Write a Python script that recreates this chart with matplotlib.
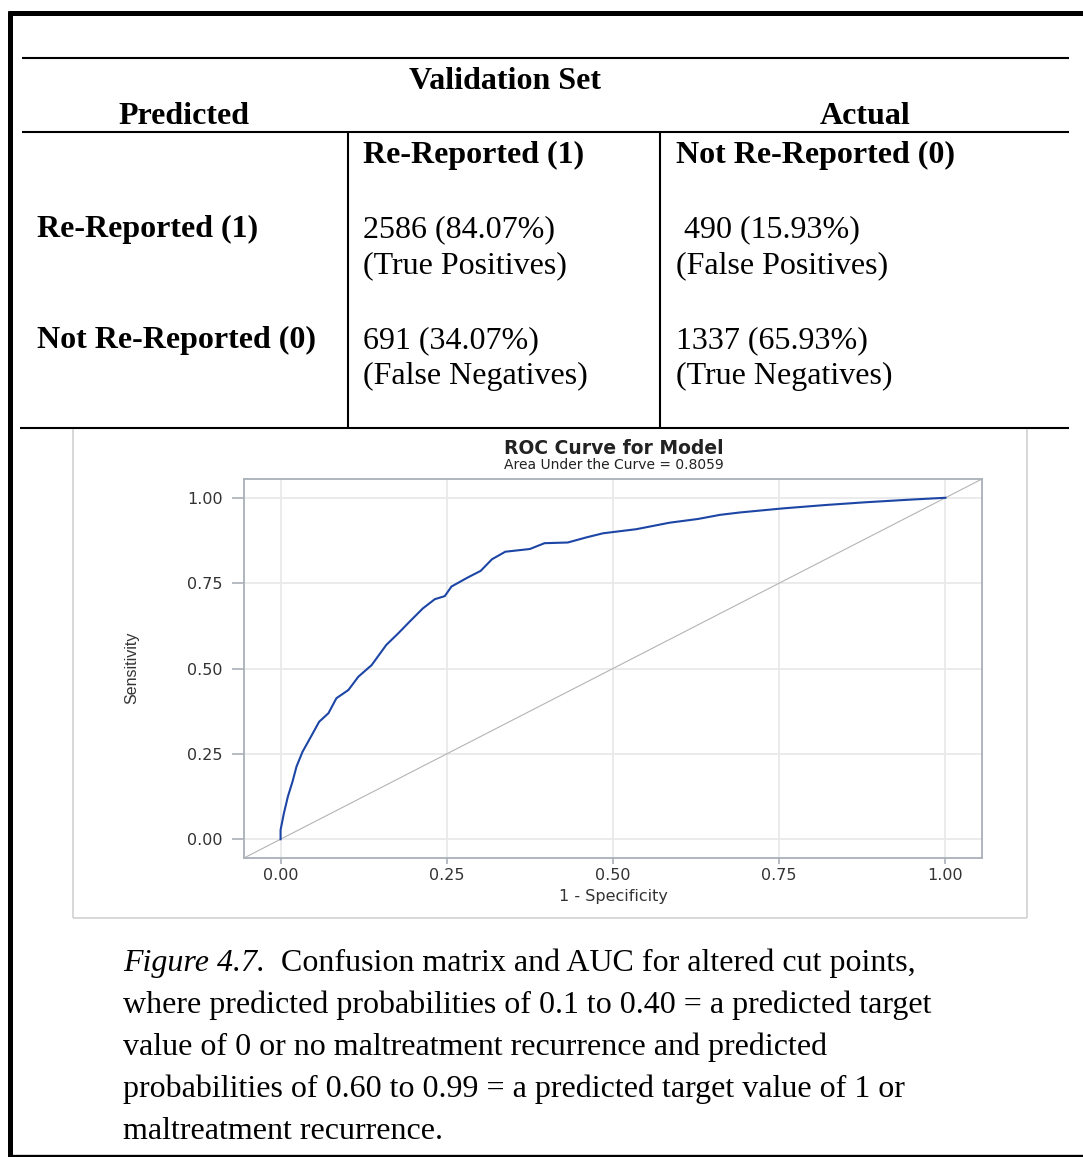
#!/usr/bin/env python3
import matplotlib
matplotlib.use("Agg")
from matplotlib import pyplot as plt

W, H = 1083, 1157
DPI = 100

# validation set confusion matrix
col_heads = ["Re-Reported (1)", "Not Re-Reported (0)"]
row_heads = ["Re-Reported (1)", "Not Re-Reported (0)"]
counts = [[2586, 490], [691, 1337]]
row_pcts = [[84.07, 15.93], [34.07, 65.93]]
outcomes = [["True Positives", "False Positives"],
            ["False Negatives", "True Negatives"]]

# ROC curve (1 - specificity, sensitivity)
fpr = [0.0, 0.0, 0.005, 0.011, 0.018, 0.024, 0.033, 0.047, 0.058, 0.072,
       0.084, 0.102, 0.117, 0.137, 0.159, 0.177, 0.194, 0.214, 0.232, 0.247,
       0.257, 0.281, 0.301, 0.318, 0.338, 0.375, 0.397, 0.432, 0.460, 0.485,
       0.535, 0.585, 0.628, 0.661, 0.691, 0.756, 0.821, 0.881, 0.951, 1.0]
tpr = [0.0, 0.027, 0.076, 0.125, 0.169, 0.213, 0.256, 0.305, 0.344, 0.369,
       0.413, 0.437, 0.476, 0.510, 0.569, 0.603, 0.637, 0.676, 0.703, 0.712,
       0.740, 0.766, 0.786, 0.820, 0.842, 0.850, 0.867, 0.869, 0.884, 0.896,
       0.908, 0.927, 0.938, 0.950, 0.957, 0.969, 0.979, 0.987, 0.995, 1.0]
auc = 0.8059
ticks = [0.0, 0.25, 0.50, 0.75, 1.00]

fig_label = "Figure 4.7."
caption = ["  Confusion matrix and AUC for altered cut points,",
           "where predicted probabilities of 0.1 to 0.40 = a predicted target",
           "value of 0 or no maltreatment recurrence and predicted",
           "probabilities of 0.60 to 0.99 = a predicted target value of 1 or",
           "maltreatment recurrence."]

serif = ["Liberation Serif", "DejaVu Serif"]
tsize = 23

fig = plt.figure(figsize=(W / DPI, H / DPI), dpi=DPI)

# page layer in pixel units, y going down
bg = fig.add_axes([0, 0, 1, 1])
bg.set_xlim(0, W)
bg.set_ylim(H, 0)
bg.axis("off")


def hline(y, x0, x1, lw, color="k"):
    bg.plot([x0, x1], [y, y], color=color, lw=lw, solid_capstyle="butt")


def vline(x, y0, y1, lw, color="k"):
    bg.plot([x, x], [y0, y1], color=color, lw=lw, solid_capstyle="butt")


# outer frame
hline(12.5, 7.5, W, 3.6)
vline(9.8, 10.5, H, 3.6)
hline(1155.5, 7.5, W, 2.4)

# table rules
hline(58, 22, 1069, 1.5)
hline(132, 22, 1069, 1.5)
hline(428, 20, 1069, 1.5)
vline(348, 132, 428, 1.5)
vline(660, 132, 428, 1.5)

# ROC panel border
vline(73, 429, 918, 1.3, "#D4D4D4")
vline(1027, 429, 918, 1.3, "#D4D4D4")
hline(918, 73, 1027, 1.3, "#D4D4D4")

bold = dict(family=serif, size=tsize, weight="bold", va="baseline")
plain = dict(family=serif, size=tsize, va="baseline")

bg.text(505, 89, "Validation Set", ha="center", **bold)
bg.text(184, 124, "Predicted", ha="center", **bold)
bg.text(865, 124, "Actual", ha="center", **bold)

col_x = [363, 676]
row_y = [237, 348]
for j, head in enumerate(col_heads):
    bg.text(col_x[j], 163, head, ha="left", **bold)
for i, head in enumerate(row_heads):
    bg.text(37, row_y[i], head, ha="left", **bold)
    for j in range(2):
        n = "{}".format(counts[i][j]) if j == 0 else "{:>4}".format(counts[i][j])
        bg.text(col_x[j], row_y[i], "{} ({:.2f}%)".format(n, row_pcts[i][j]),
                ha="left", **plain)
        bg.text(col_x[j], row_y[i] + 36, "({})".format(outcomes[i][j]),
                ha="left", **plain)

# ROC plot
sas = "#333333"
axc = "#A9B0B8"
ax = fig.add_axes([244 / W, 1 - 858 / H, (982 - 244) / W, (858 - 479) / H])
lim = (-0.055, 1.055)
ax.plot(lim, lim, color="#B4B4B4", lw=0.8)
ax.plot(fpr, tpr, color="#1C45A5", lw=1.5)
ax.set_xlim(lim)
ax.set_ylim(lim)
ax.set_xticks(ticks)
ax.set_yticks(ticks)
ax.set_xticklabels(["{:.2f}".format(t) for t in ticks])
ax.set_yticklabels(["{:.2f}".format(t) for t in ticks])
ax.grid(color="#E9E9E9", lw=1.3)
ax.set_axisbelow(True)
for s in ax.spines.values():
    s.set_color(axc)
    s.set_linewidth(1.3)
ax.tick_params(axis="x", length=4.3, width=1.2, color=axc, labelsize=11.5,
               labelcolor=sas, pad=3)
ax.tick_params(axis="y", length=8.5, width=1.2, color=axc, labelsize=11.5,
               labelcolor=sas, pad=7)

bg.text(614, 449, "ROC Curve for Model", ha="center", va="center",
        size=13.5, weight="bold", color="#222222")
bg.text(614, 465, "Area Under the Curve = {:.4f}".format(auc), ha="center",
        va="center", size=10, color="#222222")
bg.text(613, 897, "1 - Specificity", ha="center", va="center", size=11.5,
        color=sas)
bg.text(132, 668, "Sensitivity", ha="center", va="center", rotation=90,
        size=11.5, color=sas,
        family=["Liberation Sans Narrow", "Liberation Sans", "DejaVu Sans"])

# caption
cap_size = 23
t0 = bg.text(123, 971, fig_label, ha="left", va="baseline", family=serif,
             size=cap_size, style="italic")
bg.annotate(caption[0], xy=(1, 0), xycoords=t0, ha="left", va="bottom",
            family=serif, size=cap_size)
for k, line in enumerate(caption[1:], start=1):
    bg.text(123, 971 + 42 * k, line, ha="left", va="baseline", family=serif,
            size=cap_size)

fig.savefig("out.png", dpi=DPI)
